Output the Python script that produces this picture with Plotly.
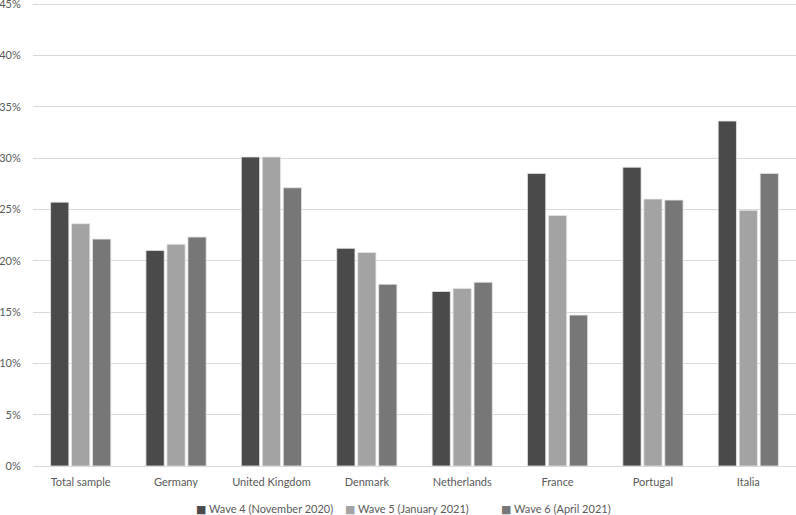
import plotly.graph_objects as go

categories = ["Total sample", "Germany", "United Kingdom", "Denmark", "Netherlands", "France", "Portugal", "Italia"]
wave4 = [25.7, 21.0, 30.1, 21.2, 17.0, 28.5, 29.1, 33.6]
wave5 = [23.6, 21.6, 30.1, 20.8, 17.3, 24.4, 26.0, 24.9]
wave6 = [22.1, 22.3, 27.1, 17.7, 17.9, 14.7, 25.9, 28.5]
series_names = ["Wave 4 (November 2020)", "Wave 5 (January 2021)", "Wave 6 (April 2021)"]
colors = ["#4a4a4a", "#a3a3a3", "#777777"]
y_ticks = [0, 5, 10, 15, 20, 25, 30, 35, 40, 45]
y_tick_labels = [f"{v}%" for v in y_ticks]

W, H = 796, 515
T, B, L = 0, 49, 33
plot_h = H - T - B
fig = go.Figure()
for name, vals, c in zip(series_names, [wave4, wave5, wave6], colors):
    fig.add_trace(go.Bar(x=categories, y=vals, name=name, showlegend=False,
                         marker=dict(color=c, line=dict(color="#e6e6e6", width=0.8))))

# legend drawn as text annotations (square glyph + label)
legend_left_px = [194, 343, 499]
for name, c, px in zip(series_names, colors, legend_left_px):
    fig.add_annotation(xref="paper", yref="paper", x=(px - L) / (W - L), y=-(509 - (H - B)) / plot_h,
                       xanchor="left", yanchor="middle", showarrow=False,
                       text=f"<span style='color:{c};font-family:DejaVu Sans'>■</span> {name}",
                       font=dict(size=11, color="#595959"))

font = "Lato, 'Open Sans', sans-serif"
fig.update_layout(
    width=W, height=H,
    margin=dict(l=L, r=0, t=T, b=B, autoexpand=False),
    plot_bgcolor="white", paper_bgcolor="white",
    barmode="group", bargap=0.34, bargroupgap=0.13,
    font=dict(family=font, size=11, color="#595959"),
    showlegend=False,
)
fig.update_yaxes(range=[0, 466 / ((466 - 4) / 45)], tickvals=y_ticks, ticktext=y_tick_labels, showgrid=True,
                 gridcolor="#d9d9d9", gridwidth=1, zeroline=False, showline=False,
                 ticks="outside", ticklen=9, tickcolor="rgba(0,0,0,0)", fixedrange=True,
                 ticklabeloverflow="allow")
fig.update_xaxes(showline=True, linecolor="#d9d9d9", linewidth=1,
                 ticks="outside", ticklen=6, tickcolor="rgba(0,0,0,0)", tickfont=dict(size=11))

fig.write_html("out.html", config={"displayModeBar": False},
               post_script="document.body.style.margin='0';")
